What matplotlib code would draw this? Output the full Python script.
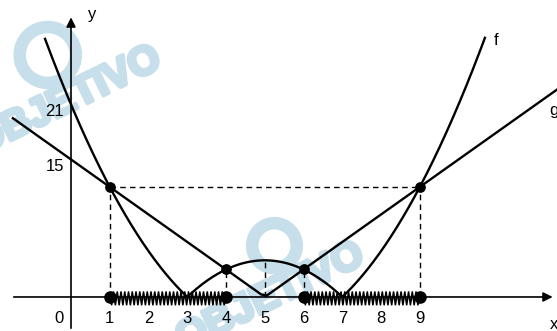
import numpy as np
import matplotlib
matplotlib.use("Agg")
import matplotlib.pyplot as plt
import matplotlib.patheffects as pe
from matplotlib.patches import Ellipse

plt.rcParams['font.family'] = ['Liberation Sans', 'DejaVu Sans']

# f(x) = |x^2 - 10x + 21| and g(x) = 3|x - 5|
f_coef = [1, -10, 21]
g_slope = 3
g_vertex = 5

# meeting points of f and g, and marked values on the axes
meet_x = [1, 4, 6, 9]
meet_y = [12, 3, 3, 12]
x_ticks = [1, 2, 3, 4, 5, 6, 7, 8, 9]
y_ticks = [15, 21]
top_x = 5
top_y = 4

# solution intervals of f(x) >= g(x)
intervals = [(1, 4), (6, 9)]


def f(x):
    return np.abs(np.polyval(f_coef, x))


def g(x):
    return g_slope * np.abs(x - g_vertex)


fig = plt.figure(figsize=(5.57, 3.31), dpi=100)
ax = fig.add_axes([0, 0, 1, 1])
ax.set_xlim(-1.832, 12.54)
ax.set_ylim(-3.71, 32.39)
ax.axis('off')

# watermark (ring + lettering)
wm = '#c6dfea'
for cx, cy, w, h, tx, ty in [(-0.6, 26.4, 1.45, 6.1, -0.1, 21.4),
                             (5.25, 5.6, 1.15, 4.9, 5.14, 0.0)]:
    ax.add_patch(Ellipse((cx, cy), w, h, fill=False, ec=wm, lw=9, zorder=0))
    ax.text(tx, ty, 'OBJETIVO', color=wm, fontsize=29, fontweight='bold',
            rotation=26, ha='center', va='center', zorder=0, clip_on=True,
            path_effects=[pe.withStroke(linewidth=3, foreground=wm)])

# axes with arrows
ax.annotate('', xy=(12.5, 0), xytext=(-1.55, 0),
            arrowprops=dict(arrowstyle='-|>', color='black', lw=1.2,
                            mutation_scale=14), zorder=3)
ax.annotate('', xy=(0, 30.8), xytext=(0, -3.71),
            arrowprops=dict(arrowstyle='-|>', color='black', lw=1.2,
                            mutation_scale=14), zorder=3)
ax.text(0.55, 30.8, 'y', fontsize=12, ha='center', va='center')
ax.text(12.45, -2.95, 'x', fontsize=12, ha='center', va='center')

# curves
xf = np.linspace(-0.67, 10.68, 600)
ax.plot(xf, f(xf), color='black', lw=1.7, zorder=4)
xg = np.linspace(-1.5, 12.6, 100)
ax.plot(xg, g(xg), color='black', lw=1.7, zorder=4)
ax.text(10.98, 28.0, 'f', fontsize=12, ha='center', va='center')
ax.text(12.45, 20.3, 'g', fontsize=12, ha='center', va='center')

# dashed guides
dash = dict(color='black', lw=1.0, ls=(0, (4, 3)), zorder=2)
ax.plot([meet_x[0], meet_x[-1]], [meet_y[0], meet_y[-1]], **dash)
for xi, yi in zip(meet_x, meet_y):
    ax.plot([xi, xi], [0, yi], **dash)
ax.plot([top_x, top_x], [0, top_y], **dash)

# zigzag over the solution intervals
for a, b in intervals:
    n = 31
    zx = np.linspace(a, b, 2 * n + 1)
    zy = np.where(np.arange(2 * n + 1) % 2 == 0, 0.55, -0.85)
    zy[0] = zy[-1] = 0
    ax.plot(zx, zy, color='black', lw=1.2, zorder=5)

# points
ax.scatter(meet_x, meet_y, s=45, color='black', zorder=6)
ax.scatter(meet_x, [0] * len(meet_x), s=65, color='black', zorder=6)

# tick labels
for t in x_ticks:
    ax.text(t, -2.3, str(t), fontsize=12, ha='center', va='center')
ax.text(-0.3, -2.3, '0', fontsize=12, ha='center', va='center')
for t in y_ticks:
    ax.text(-0.18, t - 0.8, str(t), fontsize=12, ha='right', va='center')

fig.savefig('out.png', dpi=100)
